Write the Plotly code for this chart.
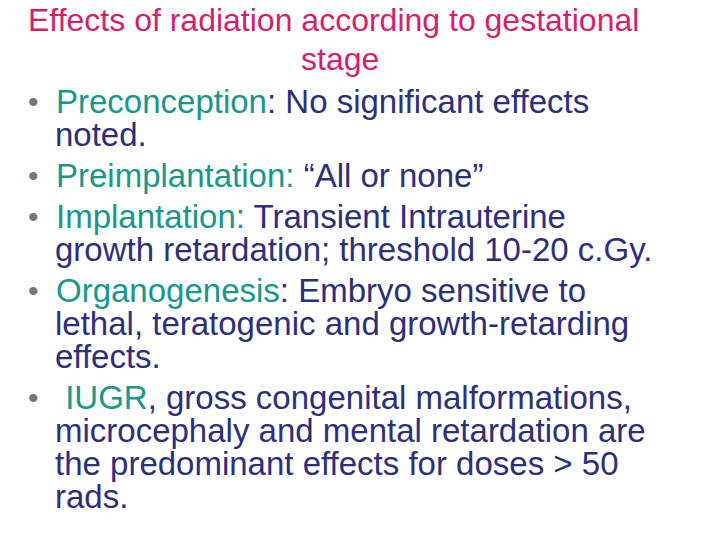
import plotly.graph_objects as go

TEAL = '#16988a'
NAVY = '#2e2e80'
PINK = '#dc1a6e'

title_lines = ['Effects of radiation according to gestational', 'stage']

# each bullet: list of lines, each line a list of (text, colour) pieces
bullets = [
    [[('Preconception', TEAL), (': No significant effects', NAVY)],
     [('noted.', NAVY)]],
    [[('Preimplantation:', TEAL), (' “All or none”', NAVY)]],
    [[('Implantation:', TEAL), (' Transient Intrauterine', NAVY)],
     [('growth retardation; threshold 10-20 c.Gy.', NAVY)]],
    [[('Organogenesis', TEAL), (': Embryo sensitive to', NAVY)],
     [('lethal, teratogenic and growth-retarding', NAVY)],
     [('effects.', NAVY)]],
    [[(' IUGR', TEAL), (', gross congenital malformations,', NAVY)],
     [('microcephaly and mental retardation are', NAVY)],
     [('the predominant effects for doses &gt; 50', NAVY)],
     [('rads.', NAVY)]],
]

line_gap = 33
bullet_gap = 41
dy = -8
dx = -9

fig = go.Figure()
font = 'Liberation Sans, Arial, sans-serif'

fig.add_annotation(x=325, y=20 + dy, text=title_lines[0], showarrow=False,
                   font=dict(family=font, size=32, color=PINK), xanchor='center', yanchor='middle')
fig.add_annotation(x=332, y=59 + dy, text=title_lines[1], showarrow=False,
                   font=dict(family=font, size=32, color=PINK), xanchor='center', yanchor='middle')

y = 101
for b in bullets:
    fig.add_annotation(x=34 + dx, y=y + dy, text='•', showarrow=False, xanchor='center', yanchor='middle',
                       font=dict(family=font, size=30, color='#777777'))
    for i, line in enumerate(b):
        txt = ''.join(f'<span style="color:{c}">{t}</span>' for t, c in line)
        fig.add_annotation(x=(54 if i else 55) + dx, y=y + dy, text=txt, showarrow=False,
                           xanchor='left', yanchor='middle',
                           font=dict(family=font, size=33, color=NAVY))
        y += line_gap
    y += bullet_gap - line_gap

fig.update_xaxes(range=[0, 720], visible=False)
fig.update_yaxes(range=[540, 0], visible=False)
fig.update_layout(width=720, height=540, margin=dict(l=0, r=0, t=0, b=0),
                  plot_bgcolor='white', paper_bgcolor='white', showlegend=False)
fig.write_html('out.html')
